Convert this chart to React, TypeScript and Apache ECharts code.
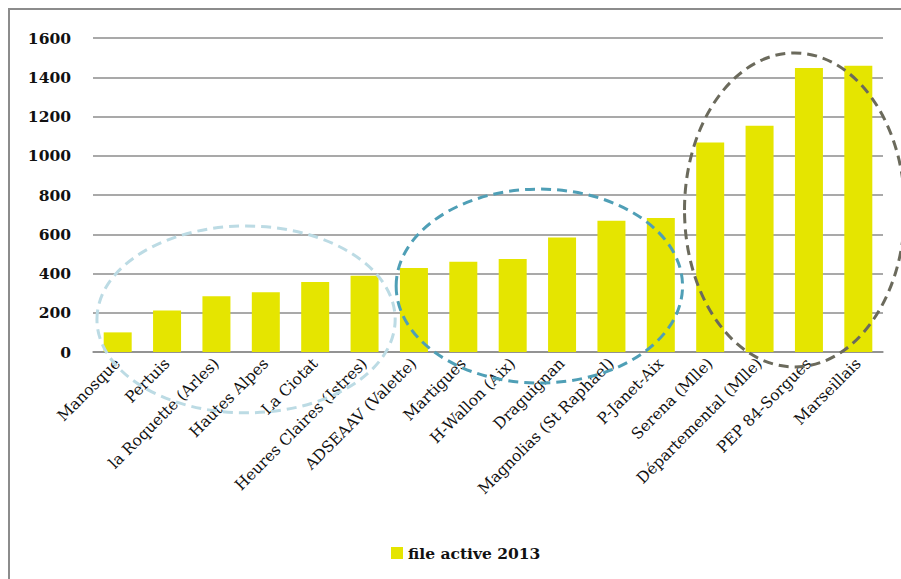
import React, { useEffect, useRef } from "react";
import * as echarts from "echarts";

const categories = [
  "Manosque",
  "Pertuis",
  "la Roquette (Arles)",
  "Hautes Alpes",
  "La Ciotat",
  "Heures Claires (Istres)",
  "ADSEAAV (Valette)",
  "Martigues",
  "H-Wallon (Aix)",
  "Draguignan",
  "Magnolias (St Raphael)",
  "P-Janet-Aix",
  "Serena (Mlle)",
  "Départemental (Mlle)",
  "PEP 84-Sorgues",
  "Marseillais",
];

const fileActive2013 = [100, 212, 284, 304, 357, 389, 428, 460, 474, 584, 669, 683, 1067, 1153, 1447, 1459];

const seriesName = "file active 2013";

// Annotation ellipses expressed in axis units: centre (category index, value), radii (categories, value)
const groupEllipses = [
  { cat: 2.6, val: 166, rCat: 3.02, rVal: 476, color: "#bcdbe4" },
  { cat: 8.54, val: 336, rCat: 2.9, rVal: 494, color: "#4f9fb6" },
  { cat: 13.71, val: 724, rCat: 2.23, rVal: 800, color: "#6b6a5c" },
];

export default function App() {
  const ref = useRef<HTMLDivElement>(null);
  useEffect(() => {
    if (!ref.current) return;
    const chart = echarts.init(ref.current, undefined, { renderer: "svg" });
    const serif = "DejaVu Serif";
    chart.setOption({
      animation: false,
      backgroundColor: "#ffffff",
      grid: { left: 93, right: 18, top: 38, bottom: 227 },
      xAxis: {
        type: "category",
        data: categories,
        axisTick: { show: false },
        axisLine: { lineStyle: { color: "#8c8c8c", width: 1.5 } },
        axisLabel: {
          interval: 0,
          rotate: 45,
          margin: 9,
          fontFamily: serif,
          fontSize: 15.5,
          color: "#111",
        },
      },
      yAxis: {
        type: "value",
        min: 0,
        max: 1600,
        interval: 200,
        axisLine: { show: false },
        axisTick: { show: false },
        splitLine: { lineStyle: { color: "#8c8c8c", width: 1.5 } },
        axisLabel: {
          margin: 22,
          fontFamily: serif,
          fontWeight: "bold",
          fontSize: 15.5,
          color: "#111",
          formatter: (v: number) => String(v),
        },
      },
      legend: {
        left: 386,
        top: 540,
        icon: "rect",
        itemWidth: 12,
        itemHeight: 12,
        itemGap: 6,
        textStyle: { fontFamily: serif, fontWeight: "bold", fontSize: 15.5, color: "#111" },
        data: [seriesName],
      },
      series: [
        {
          type: "bar",
          name: seriesName,
          data: fileActive2013,
          barWidth: 28,
          itemStyle: { color: "#e5e500" },
        },
      ],
    });

    const p0 = chart.convertToPixel({ xAxisIndex: 0 }, 0) as number;
    const p1 = chart.convertToPixel({ xAxisIndex: 0 }, 1) as number;
    const step = p1 - p0;
    const y0 = chart.convertToPixel({ yAxisIndex: 0 }, 0) as number;
    const y1 = chart.convertToPixel({ yAxisIndex: 0 }, 1000) as number;
    const perVal = (y0 - y1) / 1000;

    const ellipses = groupEllipses.map((e, i) => ({
      type: "ellipse",
      id: "ell" + i,
      z: 100,
      shape: {
        cx: p0 + e.cat * step,
        cy: y0 - e.val * perVal,
        rx: e.rCat * step,
        ry: e.rVal * perVal,
      },
      style: { fill: null, stroke: e.color, lineWidth: 3, lineDash: [10, 6] },
      silent: true,
    }));

    chart.setOption({
      graphic: [
        {
          type: "rect",
          id: "frame",
          z: 100,
          shape: { x: 9, y: 9, width: 960, height: 640 },
          style: { fill: null, stroke: "#8c8c8c", lineWidth: 2 },
          silent: true,
        },
        ...ellipses,
      ],
    });

    return () => chart.dispose();
  }, []);
  return (
    <div
      ref={ref}
      style={{ position: "absolute", left: 0, top: 0, width: 901, height: 579 }}
    />
  );
}
